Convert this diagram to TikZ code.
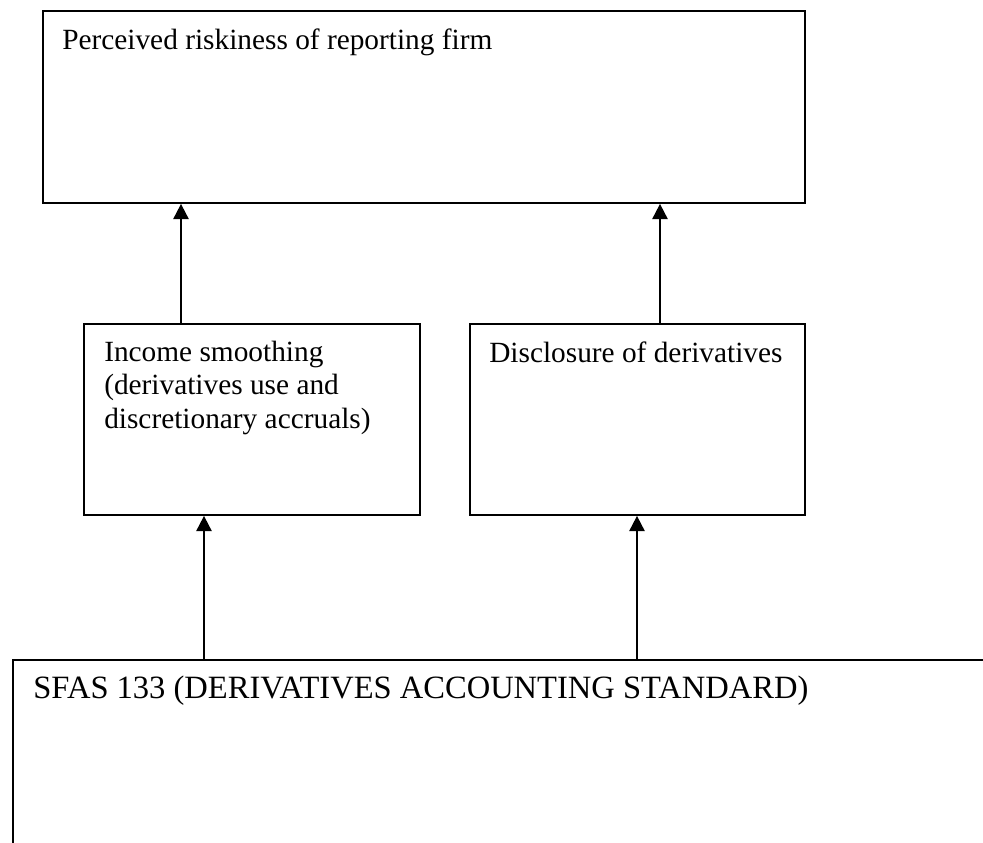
\documentclass[tikz,border=0pt]{standalone}
\usepackage{fontspec}
\setmainfont{Liberation Serif}
\usetikzlibrary{arrows.meta,calc}
\tikzset{
  box/.style={draw=black, line width=1.4pt, rectangle, anchor=north west, inner sep=0pt},
  lbl/.style={anchor=base west, inner sep=0pt, align=left, font=\fontsize{22}{25.1}\selectfont},
  biglbl/.style={anchor=base west, inner sep=0pt, font=\fontsize{24.4}{28}\selectfont},
  arr/.style={draw=black, line width=1.4pt, -{Triangle[length=11.5pt,width=11.5pt]}}
}
\begin{document}
\begin{tikzpicture}[x=0.75pt,y=-0.75pt]
\clip (0,0) rectangle (983,843);
\fill[white] (0,0) rectangle (983,843);
% boxes
\node[box, minimum width=571.5pt, minimum height=144pt] (top) at (42,10) {};
\node[box, minimum width=252pt, minimum height=143.25pt] (inc) at (83,323) {};
\node[box, minimum width=251.25pt, minimum height=143.25pt] (dis) at (469,323) {};
\node[box, minimum width=760pt, minimum height=190pt] (sfas) at (12,659) {};
% texts
\node[lbl] (tl) at (62,49) {Perceived riskiness of reporting firm};
\node[lbl] (il) at (104,428) {Income smoothing\\(derivatives use and\\discretionary accruals)};
\node[lbl] (dl) at (489,362) {Disclosure of derivatives};
\node[biglbl] (sl) at (33,698) {SFAS 133 (DERIVATIVES ACCOUNTING STANDARD)};
% connectors
\draw[arr] ($(inc.north west)+(98,0)$) -- ($(top.south west)+(139,0)$);
\draw[arr] ($(dis.north west)+(191,0)$) -- ($(top.south west)+(618,0)$);
\draw[arr] ($(sfas.north west)+(192,0)$) -- ($(inc.south west)+(121,0)$);
\draw[arr] ($(sfas.north west)+(625,0)$) -- ($(dis.south west)+(168,0)$);
\end{tikzpicture}
\end{document}
